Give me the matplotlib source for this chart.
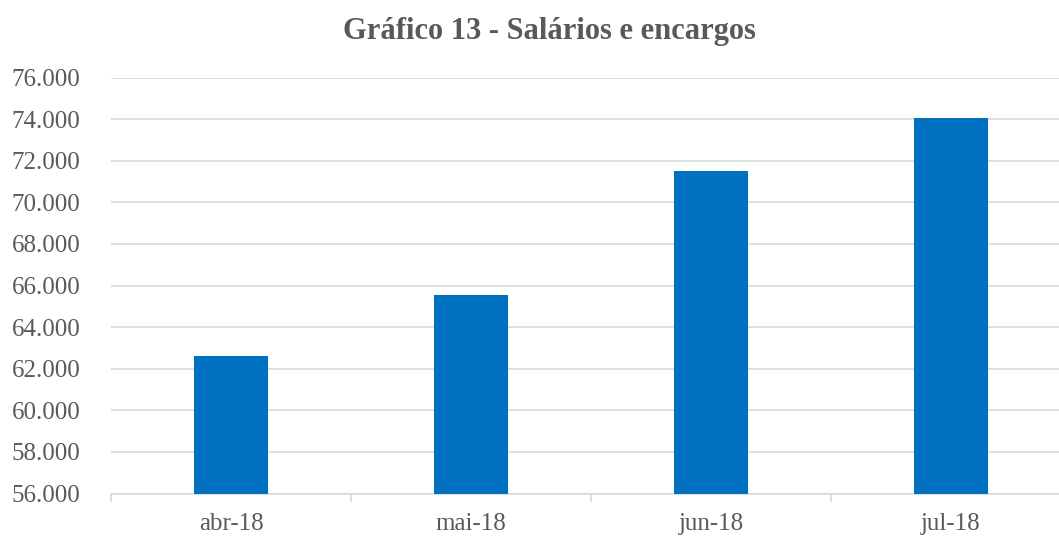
import matplotlib
matplotlib.use("Agg")
import matplotlib.pyplot as plt
from matplotlib.ticker import FuncFormatter

categories = ["abr-18", "mai-18", "jun-18", "jul-18"]
values = [62600, 65520, 71500, 74030]
yticks = list(range(56000, 76001, 2000))

plt.rcParams['font.family'] = ['Liberation Serif', 'DejaVu Serif']

W, H = 1059, 538
fig = plt.figure(figsize=(W / 100, H / 100), dpi=100)
left = 111 / W
right = 1071 / W
bottom = (H - 493.5) / H
top = (H - 77.5) / H
ax = fig.add_axes([left, bottom, right - left, top - bottom])

x = list(range(len(categories)))
ax.bar(x, values, width=0.31, color="#0070C0", zorder=3)

ax.set_xlim(-0.5, len(categories) - 0.5)
ax.set_ylim(56000, 76000)
ax.set_yticks(yticks)
ax.yaxis.set_major_formatter(FuncFormatter(lambda v, p: f"{int(v):,}".replace(",", ".")))
ax.grid(axis="y", color="#D9D9D9", linewidth=1.2, zorder=0)
ax.set_xticks(x)
ax.set_xticklabels(categories)
ax.set_xticks([i + 0.5 for i in range(len(categories) - 1)] + [-0.5], minor=True)

for s in ["top", "right", "left"]:
    ax.spines[s].set_visible(False)
ax.spines["bottom"].set_color("#D9D9D9")
ax.spines["bottom"].set_linewidth(1.2)

ax.tick_params(axis="y", length=0, pad=22, labelsize=18, labelcolor="#595959")
ax.tick_params(axis="x", which="major", length=0, pad=14, labelsize=18, labelcolor="#595959")
ax.tick_params(axis="x", which="minor", length=6, color="#D9D9D9", width=1.2)

fig.text(549 / W, (H - 32) / H, "Gráfico 13 - Salários e encargos", ha="center", va="center",
         fontsize=22, fontweight="bold", color="#595959")

fig.savefig("out.png", dpi=100, facecolor="white")
